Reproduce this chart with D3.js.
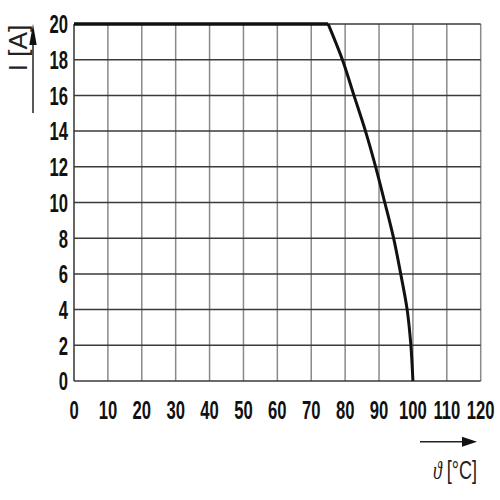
<!DOCTYPE html>
<meta charset="utf-8">
<head>
    <style>
        body { margin: 0; background: white; }
        .tick-label { font: bold 26px "Liberation Sans", Arial, sans-serif; fill: #111; }
        .axis-title { font: 25px "Liberation Sans", Arial, sans-serif; fill: #222; }
    </style>
</head>
<body>
    <script src="https://d3js.org/d3.v7.min.js"></script>
    <div id="chart"></div>
    <script>
        // derating curve
        var temps = [0, 75, 79.2, 82.6, 86.0, 89.0, 91.7, 94.3, 96.4, 98.3, 99.4, 100];
        var currents = [20, 20, 18, 16, 14, 12, 10, 8, 6, 4, 2, 0];
        var xTicks = [0, 10, 20, 30, 40, 50, 60, 70, 80, 90, 100, 110, 120];
        var yTicks = [0, 2, 4, 6, 8, 10, 12, 14, 16, 18, 20];

        var squeeze = 0.64; // condensed look of the labels

        var svg = d3.select("#chart").append("svg")
            .attr("width", 500)
            .attr("height", 500);

        var x = d3.scaleLinear().domain([0, 120]).range([74, 480.7]);
        var y = d3.scaleLinear().domain([0, 20]).range([381, 24]);

        // grid: vertical lines lighter, horizontal lines darker
        svg.append("g")
            .selectAll("line")
            .data(xTicks)
            .enter().append("line")
            .attr("x1", d => x(d)).attr("x2", d => x(d))
            .attr("y1", y(0)).attr("y2", y(20))
            .attr("stroke", d => d == 0 ? "#333" : "#8a8a8a")
            .attr("stroke-width", 1.5);

        svg.append("g")
            .selectAll("line")
            .data(yTicks)
            .enter().append("line")
            .attr("x1", x(0)).attr("x2", x(120))
            .attr("y1", d => y(d)).attr("y2", d => y(d))
            .attr("stroke", "#3a3a3a")
            .attr("stroke-width", 1.5);

        // tick labels
        svg.append("g")
            .selectAll("text")
            .data(xTicks)
            .enter().append("text")
            .attr("class", "tick-label")
            .attr("transform", d => "translate(" + x(d) + ",419) scale(" + squeeze + ",1)")
            .attr("text-anchor", "middle")
            .text(d => d);

        svg.append("g")
            .selectAll("text")
            .data(yTicks)
            .enter().append("text")
            .attr("class", "tick-label")
            .attr("transform", d => "translate(68," + y(d) + ") scale(" + squeeze + ",1)")
            .attr("dy", "0.36em")
            .attr("text-anchor", "end")
            .text(d => d);

        // the curve: flat part, then the falling part
        var line = d3.line()
            .x(i => x(temps[i]))
            .y(i => y(currents[i]));

        svg.append("path")
            .datum([0, 1])
            .attr("d", line)
            .attr("fill", "none")
            .attr("stroke", "#111")
            .attr("stroke-width", 3.6);

        svg.append("path")
            .datum(d3.range(1, temps.length))
            .attr("d", line.curve(d3.curveMonotoneY))
            .attr("fill", "none")
            .attr("stroke", "#111")
            .attr("stroke-width", 3);

        // y axis title with arrow
        svg.append("line")
            .attr("x1", 33).attr("x2", 33)
            .attr("y1", 113).attr("y2", 40)
            .attr("stroke", "#222").attr("stroke-width", 1.5);
        svg.append("path")
            .attr("d", "M33,24 L29.3,45 L36.7,45 Z")
            .attr("fill", "#111");
        svg.append("text")
            .attr("class", "axis-title")
            .attr("transform", "translate(27,48) rotate(-90) scale(1.05,1)")
            .attr("text-anchor", "middle")
            .text("I [A]");

        // x axis title with arrow
        svg.append("line")
            .attr("x1", 420).attr("x2", 465)
            .attr("y1", 441.7).attr("y2", 441.7)
            .attr("stroke", "#222").attr("stroke-width", 1.5);
        svg.append("path")
            .attr("d", "M477,441.7 L462,436.7 L462,446.7 Z")
            .attr("fill", "#111");
        var xt = svg.append("text")
            .attr("class", "axis-title")
            .attr("transform", "translate(477,479) scale(0.72,1)")
            .attr("text-anchor", "end");
        xt.append("tspan")
            .style("font-family", "'Liberation Serif', serif")
            .style("font-style", "italic")
            .text("ϑ");
        xt.append("tspan").text(" [°C]");
    </script>
</body>
